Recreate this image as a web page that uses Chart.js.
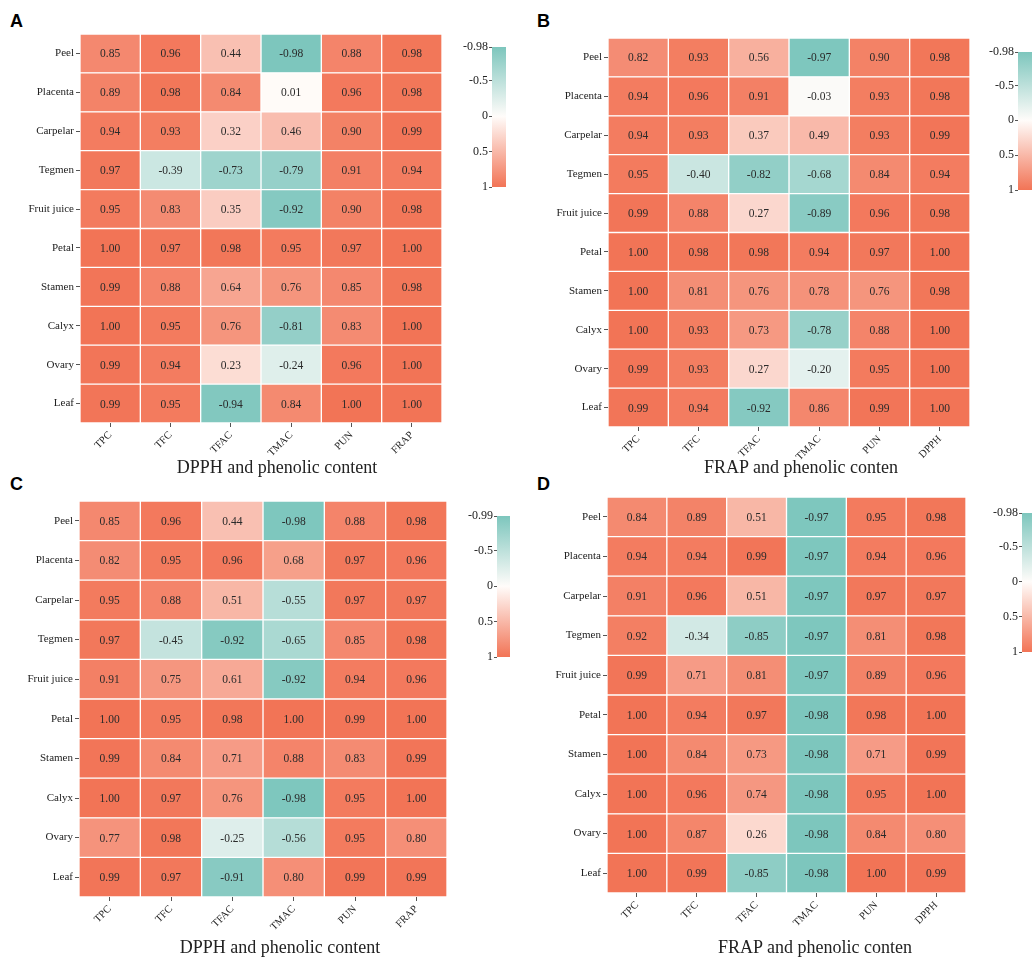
<!DOCTYPE html>
<html>
<head>
<meta charset="utf-8">
<script src="https://cdn.jsdelivr.net/npm/chart.js@4"></script>
<style>
  html, body { margin: 0; padding: 0; background: #fff; overflow: hidden; }
  body { width: 1032px; height: 957px; position: relative; }
  canvas { position: absolute; }
  .tag { position: absolute; font: bold 18px "Liberation Sans", Arial, sans-serif; color: #000; line-height: 1; }
  .ttl { position: absolute; font: 18px "Liberation Serif", "Times New Roman", serif; color: #222;
         transform: translate(-50%, -50%); white-space: nowrap; }
</style>
</head>
<body>
<div class="tag" style="left:10px;top:12px">A</div>
<div class="tag" style="left:537px;top:12px">B</div>
<div class="tag" style="left:10px;top:475px">C</div>
<div class="tag" style="left:537px;top:475px">D</div>

<canvas id="hmA" width="470" height="480" style="left:0;top:0"></canvas>
<canvas id="cbA" width="80" height="170" style="left:440px;top:30px"></canvas>
<canvas id="hmB" width="470" height="480" style="left:520px;top:0"></canvas>
<canvas id="cbB" width="72" height="175" style="left:960px;top:30px"></canvas>
<canvas id="hmC" width="480" height="487" style="left:0;top:470px"></canvas>
<canvas id="cbC" width="80" height="175" style="left:440px;top:500px"></canvas>
<canvas id="hmD" width="470" height="487" style="left:520px;top:470px"></canvas>
<canvas id="cbD" width="72" height="175" style="left:960px;top:495px"></canvas>

<div class="ttl" style="left:277px;top:467px">DPPH and phenolic content</div>
<div class="ttl" style="left:801px;top:467px">FRAP and phenolic conten</div>
<div class="ttl" style="left:280px;top:947px">DPPH and phenolic content</div>
<div class="ttl" style="left:815px;top:947px">FRAP and phenolic conten</div>

<script>
// Flower / fruit tissues (rows) and measured traits (columns)
const tissues = ['Peel', 'Placenta', 'Carpelar', 'Tegmen', 'Fruit juice', 'Petal', 'Stamen', 'Calyx', 'Ovary', 'Leaf'];
const traitsDPPH = ['TPC', 'TFC', 'TFAC', 'TMAC', 'PUN', 'FRAP'];
const traitsFRAP = ['TPC', 'TFC', 'TFAC', 'TMAC', 'PUN', 'DPPH'];

// Correlation coefficients, one row per tissue
const corrA = [
  [0.85, 0.96, 0.44, -0.98, 0.88, 0.98],
  [0.89, 0.98, 0.84, 0.01, 0.96, 0.98],
  [0.94, 0.93, 0.32, 0.46, 0.90, 0.99],
  [0.97, -0.39, -0.73, -0.79, 0.91, 0.94],
  [0.95, 0.83, 0.35, -0.92, 0.90, 0.98],
  [1.00, 0.97, 0.98, 0.95, 0.97, 1.00],
  [0.99, 0.88, 0.64, 0.76, 0.85, 0.98],
  [1.00, 0.95, 0.76, -0.81, 0.83, 1.00],
  [0.99, 0.94, 0.23, -0.24, 0.96, 1.00],
  [0.99, 0.95, -0.94, 0.84, 1.00, 1.00]
];
const corrB = [
  [0.82, 0.93, 0.56, -0.97, 0.90, 0.98],
  [0.94, 0.96, 0.91, -0.03, 0.93, 0.98],
  [0.94, 0.93, 0.37, 0.49, 0.93, 0.99],
  [0.95, -0.40, -0.82, -0.68, 0.84, 0.94],
  [0.99, 0.88, 0.27, -0.89, 0.96, 0.98],
  [1.00, 0.98, 0.98, 0.94, 0.97, 1.00],
  [1.00, 0.81, 0.76, 0.78, 0.76, 0.98],
  [1.00, 0.93, 0.73, -0.78, 0.88, 1.00],
  [0.99, 0.93, 0.27, -0.20, 0.95, 1.00],
  [0.99, 0.94, -0.92, 0.86, 0.99, 1.00]
];
const corrC = [
  [0.85, 0.96, 0.44, -0.98, 0.88, 0.98],
  [0.82, 0.95, 0.96, 0.68, 0.97, 0.96],
  [0.95, 0.88, 0.51, -0.55, 0.97, 0.97],
  [0.97, -0.45, -0.92, -0.65, 0.85, 0.98],
  [0.91, 0.75, 0.61, -0.92, 0.94, 0.96],
  [1.00, 0.95, 0.98, 1.00, 0.99, 1.00],
  [0.99, 0.84, 0.71, 0.88, 0.83, 0.99],
  [1.00, 0.97, 0.76, -0.98, 0.95, 1.00],
  [0.77, 0.98, -0.25, -0.56, 0.95, 0.80],
  [0.99, 0.97, -0.91, 0.80, 0.99, 0.99]
];
const corrD = [
  [0.84, 0.89, 0.51, -0.97, 0.95, 0.98],
  [0.94, 0.94, 0.99, -0.97, 0.94, 0.96],
  [0.91, 0.96, 0.51, -0.97, 0.97, 0.97],
  [0.92, -0.34, -0.85, -0.97, 0.81, 0.98],
  [0.99, 0.71, 0.81, -0.97, 0.89, 0.96],
  [1.00, 0.94, 0.97, -0.98, 0.98, 1.00],
  [1.00, 0.84, 0.73, -0.98, 0.71, 0.99],
  [1.00, 0.96, 0.74, -0.98, 0.95, 1.00],
  [1.00, 0.87, 0.26, -0.98, 0.84, 0.80],
  [1.00, 0.99, -0.85, -0.98, 1.00, 0.99]
];

// Colour-bar limits and tick values
const scaleMins = { A: -0.98, B: -0.98, C: -0.99, D: -0.98 };
const barTicks = [-0.5, 0, 0.5, 1];

const SERIF = "'Liberation Serif', 'Times New Roman', serif";
Chart.defaults.font.family = SERIF;
Chart.defaults.color = '#222';

const TEAL = [125, 198, 189];
const MID = [255, 252, 250];
const RED = [242, 116, 86];

function mix(a, b, t) {
  return 'rgb(' + a.map((v, i) => Math.round(v + (b[i] - v) * t)).join(',') + ')';
}
function cellColor(v, lo) {
  if (v >= 0) return mix(MID, RED, Math.min(1, v));
  return mix(MID, TEAL, Math.min(1, v / lo));
}

// Prints each coefficient in the middle of its cell
const cellText = {
  id: 'cellText',
  afterDatasetsDraw(chart) {
    const ctx = chart.ctx;
    const vals = chart.options.plugins.cellText.values;
    ctx.save();
    ctx.font = '11.5px ' + SERIF;
    ctx.fillStyle = '#2a2a2a';
    ctx.textAlign = 'center';
    ctx.textBaseline = 'middle';
    chart.data.datasets.forEach((ds, c) => {
      chart.getDatasetMeta(c).data.forEach((el, r) => {
        const p = el.getCenterPoint();
        ctx.fillText(vals[r][c].toFixed(2), p.x, p.y + 1);
      });
    });
    ctx.restore();
  }
};

function heatmap(id, values, traits, lo, geo) {
  const datasets = traits.map((t, c) => ({
    label: t,
    data: tissues.map(() => [c, c + 1]),
    backgroundColor: tissues.map((_, r) => cellColor(values[r][c], lo)),
    borderColor: '#ffffff',
    borderWidth: 1,
    borderSkipped: false,
    grouped: false,
    barPercentage: 1,
    categoryPercentage: 1
  }));
  new Chart(document.getElementById(id), {
    type: 'bar',
    data: { labels: tissues, datasets },
    plugins: [cellText],
    options: {
      indexAxis: 'y',
      responsive: false,
      animation: false,
      devicePixelRatio: 1,
      layout: { padding: { left: 0, top: geo.top, right: geo.right, bottom: 0 } },
      plugins: {
        legend: { display: false },
        tooltip: { enabled: false },
        cellText: { values }
      },
      scales: {
        y: {
          type: 'category',
          offset: true,
          border: { display: false },
          grid: { offset: false, drawOnChartArea: false, tickLength: 4, color: '#555', tickWidth: 1 },
          ticks: { padding: 2, color: '#222', font: { family: SERIF, size: 11 } },
          afterFit: (s) => { s.width = geo.yWidth; }
        },
        x: {
          type: 'linear',
          min: 0,
          max: traits.length,
          border: { display: false },
          grid: { drawOnChartArea: false, tickLength: 4, color: '#555' },
          afterBuildTicks: (s) => { s.ticks = traits.map((_, i) => ({ value: i + 0.5 })); },
          ticks: {
            autoSkip: false,
            minRotation: 45,
            maxRotation: 45,
            padding: 2,
            color: '#222',
            font: { family: SERIF, size: 10.5 },
            callback: (v, i) => traits[i]
          },
          afterFit: (s) => { s.height = geo.xHeight; }
        }
      }
    }
  });
}

function colorBar(id, lo, geo) {
  const stopZero = (0 - lo) / (1 - lo);
  new Chart(document.getElementById(id), {
    type: 'bar',
    data: {
      labels: [''],
      datasets: [{
        data: [[lo, 1]],
        backgroundColor: (ctx) => {
          const area = ctx.chart.chartArea;
          if (!area) return 'rgba(0,0,0,0)';
          const g = ctx.chart.ctx.createLinearGradient(0, area.top, 0, area.bottom);
          g.addColorStop(0, mix(MID, TEAL, 1));
          g.addColorStop(stopZero, mix(MID, TEAL, 0));
          g.addColorStop(1, mix(MID, RED, 1));
          return g;
        },
        borderWidth: 0,
        barThickness: 14,
        barPercentage: 1,
        categoryPercentage: 1
      }]
    },
    options: {
      responsive: false,
      animation: false,
      devicePixelRatio: 1,
      layout: { padding: { left: 0, top: geo.top, right: geo.right, bottom: geo.bottom } },
      plugins: { legend: { display: false }, tooltip: { enabled: false } },
      scales: {
        x: { display: false, offset: true },
        y: {
          type: 'linear',
          min: lo,
          max: 1,
          reverse: true,
          border: { display: false },
          grid: { drawOnChartArea: false, tickLength: 3, color: '#555' },
          afterBuildTicks: (s) => { s.ticks = [lo].concat(barTicks).map(v => ({ value: v })); },
          ticks: {
            padding: 1,
            color: '#222',
            font: { family: SERIF, size: 12 },
            callback: (v) => String(v)
          },
          afterFit: (s) => { s.width = geo.yWidth; }
        }
      }
    }
  });
}

heatmap('hmA', corrA, traitsDPPH, scaleMins.A, { top: 34, right: 28, yWidth: 80, xHeight: 57 });
heatmap('hmB', corrB, traitsFRAP, scaleMins.B, { top: 38, right: 20, yWidth: 88, xHeight: 53 });
heatmap('hmC', corrC, traitsDPPH, scaleMins.C, { top: 31, right: 33, yWidth: 79, xHeight: 60 });
heatmap('hmD', corrD, traitsFRAP, scaleMins.D, { top: 27, right: 24, yWidth: 87, xHeight: 64 });

colorBar('cbA', scaleMins.A, { top: 17, bottom: 13, right: 14, yWidth: 52 });
colorBar('cbB', scaleMins.B, { top: 22, bottom: 15, right: 0, yWidth: 58 });
colorBar('cbC', scaleMins.C, { top: 16, bottom: 18, right: 10, yWidth: 57 });
colorBar('cbD', scaleMins.D, { top: 18, bottom: 18, right: 0, yWidth: 62 });
</script>
</body>
</html>
